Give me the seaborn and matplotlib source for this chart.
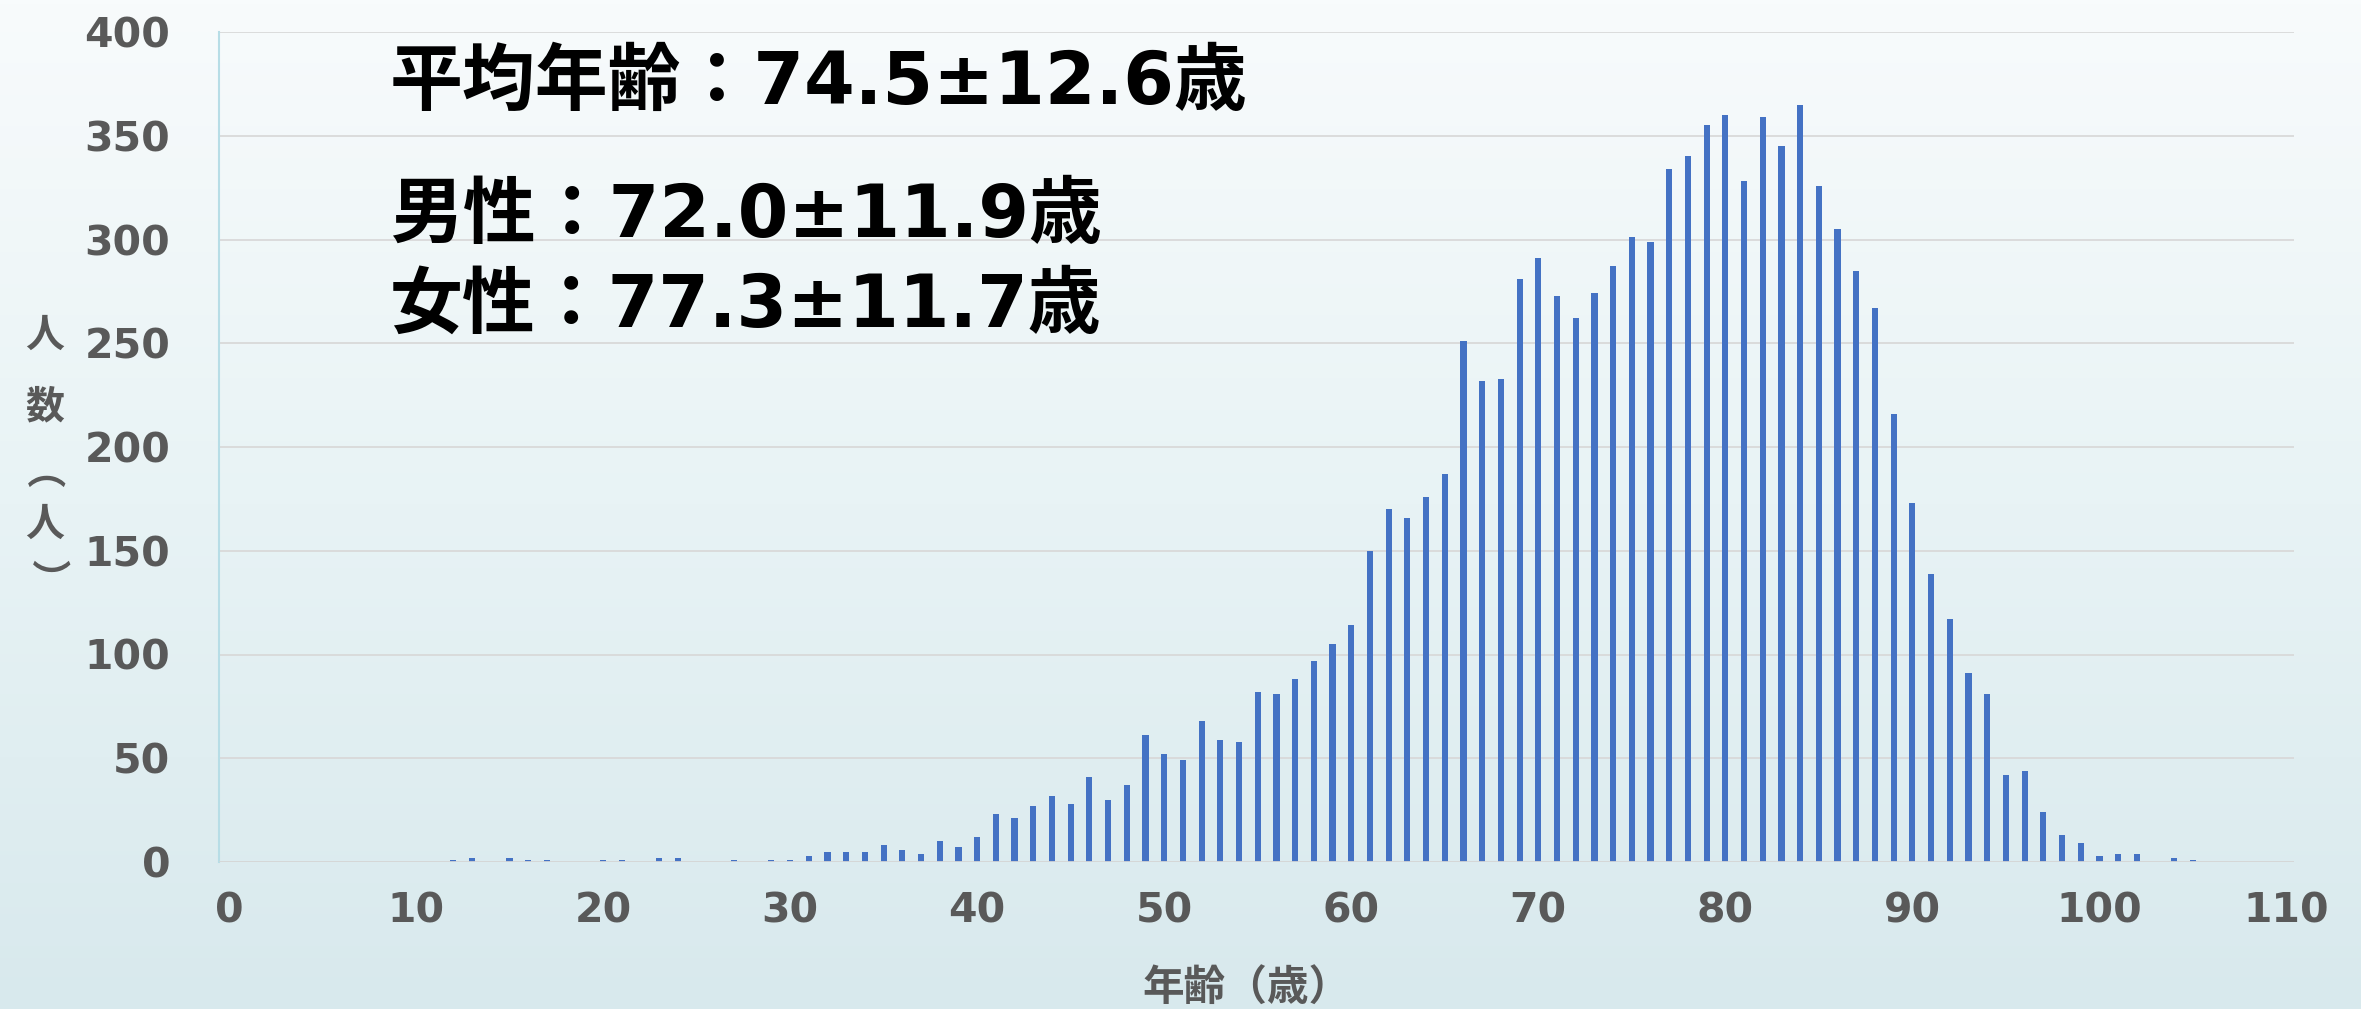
import numpy as np
import matplotlib
matplotlib.use("Agg")
import matplotlib.pyplot as plt
import seaborn as sns
import pandas as pd
from matplotlib.colors import LinearSegmentedColormap

# ---------------- data ----------------
ages = list(range(12, 106))
counts = [1, 2, 0, 2, 1, 1, 0, 0, 1, 1,          # 12-21
          0, 2, 2, 0, 0, 1, 0, 1, 1, 3,          # 22-31
          5, 5, 5, 8, 6, 4, 10, 7, 12, 23,       # 32-41
          21, 27, 32, 28, 41, 30, 37, 61, 52, 49,  # 42-51
          68, 59, 58, 82, 81, 88, 97, 105, 114, 150,  # 52-61
          170, 166, 176, 187, 251, 232, 233, 281, 291, 273,  # 62-71
          262, 274, 287, 301, 299, 334, 340, 355, 360, 328,  # 72-81
          359, 345, 365, 326, 305, 285, 267, 216, 173, 139,  # 82-91
          117, 91, 81, 42, 44, 24, 13, 9, 3, 4,  # 92-101
          4, 0, 2, 1]                            # 102-105
x_ticks = [0, 10, 20, 30, 40, 50, 60, 70, 80, 90, 100, 110]
y_ticks = [0, 50, 100, 150, 200, 250, 300, 350, 400]
title_main = "平均年齢：74.5±12.6歳"
title_male = "男性：72.0±11.9歳"
title_female = "女性：77.3±11.7歳"
x_label = "年齢（歳）"
y_label_chars = ["人", "数", "（", "人", "）"]

df = pd.DataFrame({"age": ages, "count": counts})

# ---------------- style ----------------
sns.set_theme(style="white")
FONTS = ["DejaVu Sans", "Noto Sans CJK JP"]
plt.rcParams["font.family"] = FONTS
plt.rcParams["axes.unicode_minus"] = False

W, H = 2361, 1009
fig = plt.figure(figsize=(W / 100, H / 100), dpi=100)

# background gradient
bg = fig.add_axes([0, 0, 1, 1], zorder=-10)
cmap = LinearSegmentedColormap.from_list(
    "bg", ["#f8fbfc", "#e8f3f5", "#d8e9ed"])
grad = np.linspace(0, 1, 256).reshape(-1, 1)
bg.imshow(grad, cmap=cmap, aspect="auto", extent=[0, 1, 0, 1], origin="upper")
bg.set_axis_off()

ax = fig.add_axes([219 / W, 1 - 862 / H, (2294 - 219) / W, (862 - 32) / H])
ax.set_facecolor("none")

sns.barplot(data=df, x="age", y="count", native_scale=True, width=0.33,
            color="#4472C4", saturation=1, linewidth=0, ax=ax, zorder=3)

ax.set_xlim(-0.53, 110.4)
ax.set_ylim(0, 400)
ax.set_xticks(x_ticks)
ax.set_xticklabels([str(t) for t in x_ticks])
ax.set_yticks(y_ticks)
ax.set_yticklabels([str(t) for t in y_ticks])
ax.set_xlabel("")
ax.set_ylabel("")

for y in y_ticks[1:]:
    ax.axhline(y, color="#d9d9d9", lw=1.3, zorder=1)
ax.axhline(0, color="#d5d5d5", lw=2.0, zorder=4)

for s in ["top", "right", "bottom"]:
    ax.spines[s].set_visible(False)
ax.spines["left"].set_color("#b7dde6")
ax.spines["left"].set_linewidth(1.5)

ax.tick_params(axis="both", length=0, colors="#595959")
ax.tick_params(axis="y", pad=35)
ax.tick_params(axis="x", pad=21)
for lab in ax.get_yticklabels() + ax.get_xticklabels():
    lab.set_fontsize(29.5)
    lab.set_fontweight("bold")
    lab.set_color("#595959")

# annotation texts
tx = 390 / W
for txt, yc in [(title_main, 83), (title_male, 217), (title_female, 306)]:
    fig.text(tx, 1 - yc / H, txt, fontsize=52.5, fontweight="bold",
             color="black", ha="left", va="center", family=FONTS)

# x label
fig.text(1247 / W, 1 - 989 / H, x_label, fontsize=30, fontweight="bold",
         color="#595959", ha="center", va="center", family=FONTS)

# stacked y label
ypos = [(45, 336), (45, 407), (16, 493), (45, 525), (45, 578)]
for ch, (xc, yc) in zip(y_label_chars, ypos):
    rot = -90 if ch in "（）" else 0
    fig.text(xc / W, 1 - yc / H, ch, fontsize=28, fontweight="bold",
             color="#595959", ha="center", va="center", rotation=rot,
             family=FONTS)

fig.savefig("out.png", dpi=100)
